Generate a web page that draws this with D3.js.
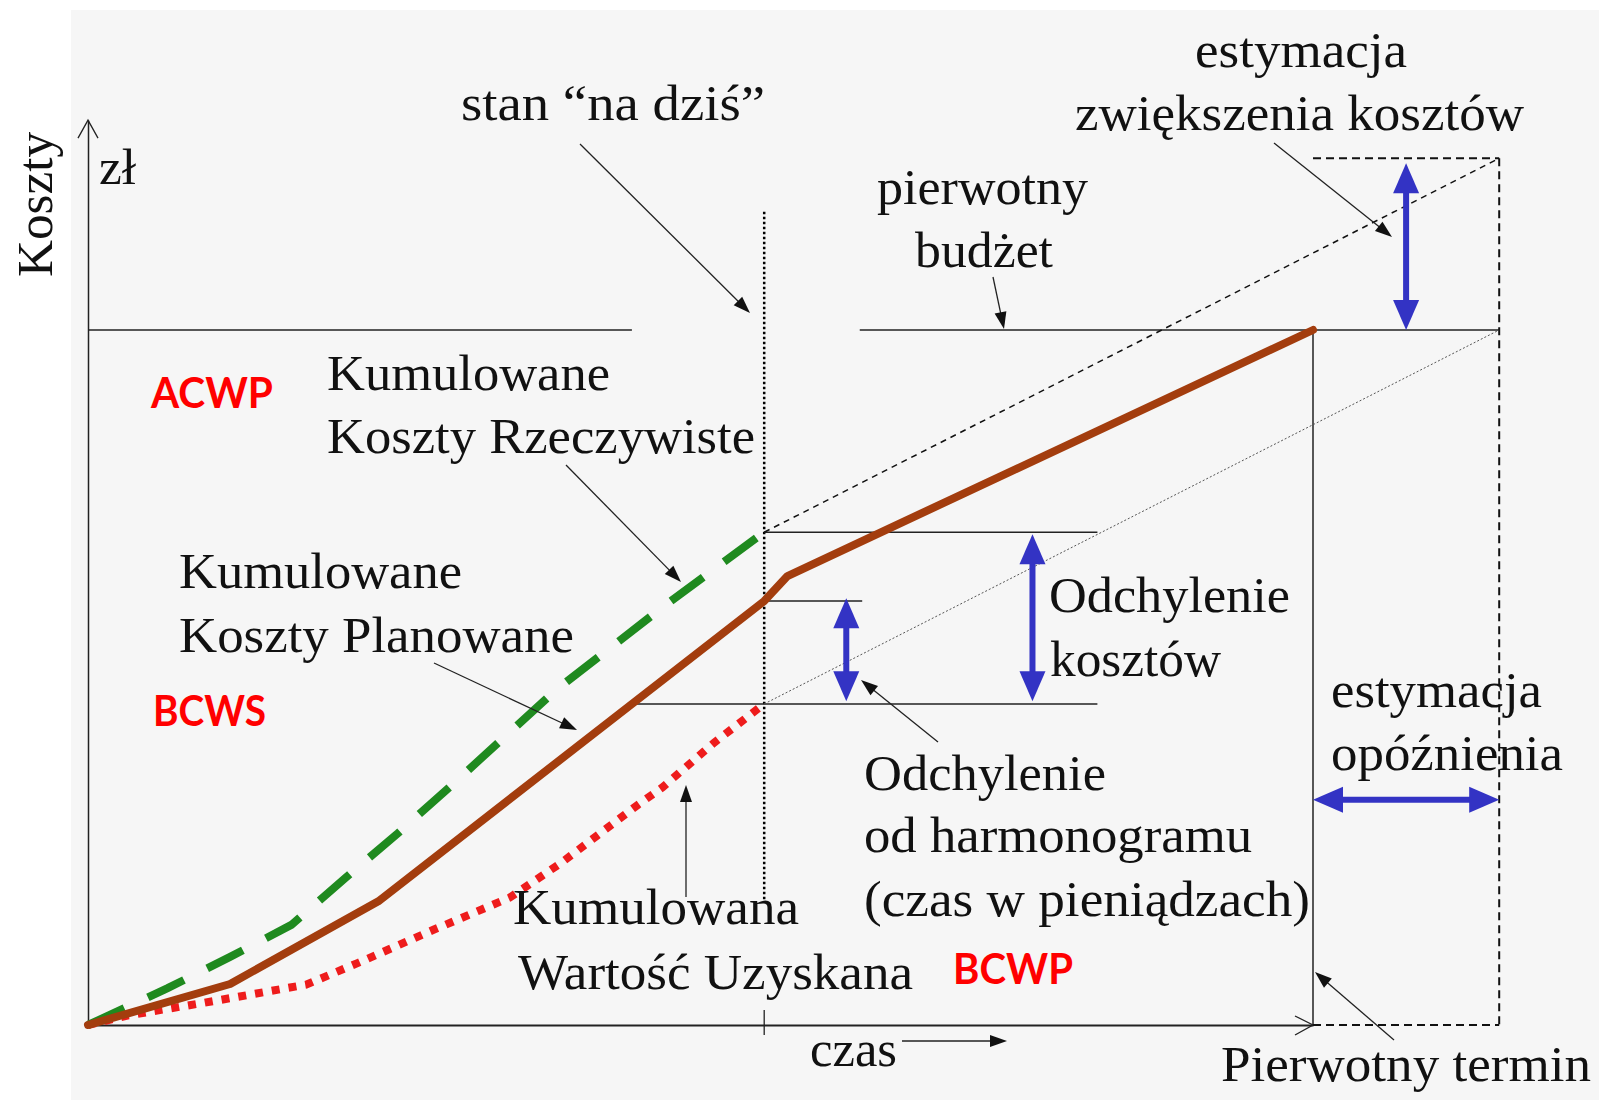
<!DOCTYPE html>
<html>
<head>
<meta charset="utf-8">
<script src="https://cdn.jsdelivr.net/npm/d3@7"></script>
<style>
  body { margin: 0; background: #fff; }
  svg { display: block; }
</style>
</head>
<body>
<svg></svg>
<script>
// time units: 0 = start, 100 = original deadline; cost units: 100 = original budget
let today = 55.2;
let deadline = 100;
let estDeadline = 115.2;
let budget = 100;
let estCost = 124.7;
let axisTop = 130.2;

// BCWS - planned cumulative cost (brown solid)
let bcwsT = [0, 11.6, 23.7, 55.2, 57.1, 100];
let bcwsC = [0, 5.9, 17.8, 61.0, 64.6, 100];

// ACWP - actual cumulative cost (green dashed)
let acwpT = [0, 6.5, 11.6, 16.6, 21.1, 25.3, 29.5, 38.2, 46.9, 55.2];
let acwpC = [0, 5.3, 9.8, 14.4, 21.3, 27.6, 34.2, 48.2, 60.1, 70.9];

// BCWP - earned value (red dotted)
let bcwpT = [0, 3.3, 9.5, 17.8, 22.0, 28.2, 34.4, 38.6, 44.9, 46.9, 51.1, 55.2];
let bcwpC = [0, 1.4, 3.2, 5.8, 8.9, 13.7, 18.3, 23.3, 31.7, 34.2, 40.6, 46.2];

let labels = ['stan \u201Cna dziś\u201D', 'estymacja', 'zwiększenia kosztów', 'pierwotny', 'budżet',
    'Kumulowane', 'Koszty Rzeczywiste', 'Kumulowane', 'Koszty Planowane',
    'Odchylenie', 'kosztów', 'estymacja', 'opóźnienia',
    'Odchylenie', 'od harmonogramu', '(czas w pieniądzach)',
    'Kumulowana', 'Wartość Uzyskana', 'czas', 'Pierwotny termin', 'zł'];
let codes = ['ACWP', 'BCWS', 'BCWP'];

let width = 1599;
let height = 1100;

let svg = d3.select('svg')
    .attr('width', width)
    .attr('height', height)

svg.append('rect')
    .attr('width', width).attr('height', height)
    .attr('fill', '#ffffff')
svg.append('rect')
    .attr('x', 71).attr('y', 10)
    .attr('width', width - 71).attr('height', height - 10)
    .attr('fill', '#f6f6f6')

let x = d3.scaleLinear().domain([0, 100]).range([88, 1313]);
let y = d3.scaleLinear().domain([0, 100]).range([1025, 330]);

let line = d3.line()
    .x(d => x(d[0]))
    .y(d => y(d[1]));

function seg(t1, c1, t2, c2, stroke, sw, dash) {
    let l = svg.append('line')
        .attr('x1', x(t1)).attr('y1', y(c1))
        .attr('x2', x(t2)).attr('y2', y(c2))
        .attr('stroke', stroke)
        .attr('stroke-width', sw)
    if (dash) l.attr('stroke-dasharray', dash);
    return l;
}

// axes
let yAx = y.copy().domain([0, axisTop]).range([y(0), y(axisTop)]);
svg.append('g')
    .attr('transform', 'translate(' + x(0) + ',0)')
    .call(d3.axisLeft(yAx).tickValues([]).tickSizeOuter(0))
    .select('.domain').attr('stroke', '#222').attr('stroke-width', 1.5);
svg.append('g')
    .attr('transform', 'translate(0,' + y(0) + ')')
    .call(d3.axisBottom(x).tickValues([]).tickSizeOuter(0))
    .select('.domain').attr('stroke', '#222').attr('stroke-width', 2);

// open arrow heads on the axes
svg.append('path')
    .attr('d', 'M' + (x(0) - 10) + ',' + (yAx(axisTop) + 18) + 'L' + x(0) + ',' + yAx(axisTop) + 'L' + (x(0) + 10) + ',' + (yAx(axisTop) + 18))
    .attr('fill', 'none').attr('stroke', '#222').attr('stroke-width', 1.3)
svg.append('path')
    .attr('d', 'M' + (x(deadline) - 18) + ',' + (y(0) - 9) + 'L' + x(deadline) + ',' + y(0) + 'L' + (x(deadline) - 18) + ',' + (y(0) + 10))
    .attr('fill', 'none').attr('stroke', '#222').attr('stroke-width', 1.3)

// tick at today
svg.append('line')
    .attr('x1', x(today)).attr('x2', x(today))
    .attr('y1', y(0) - 15).attr('y2', y(0) + 10)
    .attr('stroke', '#222').attr('stroke-width', 1.3)

// budget line (two pieces)
seg(0, budget, 44.4, budget, '#222', 1.5);
seg(63.0, budget, estDeadline, budget, '#222', 1.5);

// today line
seg(today, 117, today, 18, '#000', 2.5, '2.5 2.5');

// variance level lines
seg(today, 70.9, 82.4, 70.9, '#222', 1.5);
seg(today, 61.0, 63.2, 61.0, '#222', 1.5);
seg(44.4, 46.2, 82.4, 46.2, '#222', 1.5);

// original deadline vertical
seg(deadline, 0, deadline, budget, '#222', 1.5);

// estimate box (dashed)
seg(deadline, estCost, estDeadline, estCost, '#111', 2, '8 5');
seg(estDeadline, estCost, estDeadline, 0, '#111', 2, '8 5');
seg(deadline, 0, estDeadline, 0, '#111', 2, '8 5');

// extrapolations
seg(today, 70.9, estDeadline, estCost, '#111', 1.5, '6 5');
seg(today, 46.2, estDeadline, budget, '#555', 1, '2 2');

// curves
svg.append('path')
    .datum(d3.zip(bcwpT, bcwpC))
    .attr('d', line)
    .attr('fill', 'none')
    .attr('stroke', '#ee1c1c')
    .attr('stroke-width', 8)
    .attr('stroke-dasharray', '8 9')
svg.append('path')
    .datum(d3.zip(acwpT, acwpC))
    .attr('d', line)
    .attr('fill', 'none')
    .attr('stroke', '#1f8a1f')
    .attr('stroke-width', 8)
    .attr('stroke-dasharray', '40 26')
svg.append('path')
    .datum(d3.zip(bcwsT, bcwsC))
    .attr('d', line)
    .attr('fill', 'none')
    .attr('stroke', '#a33d0e')
    .attr('stroke-width', 8)
    .attr('stroke-linejoin', 'round')
    .attr('stroke-linecap', 'round')

// blue double arrows
function head(px, py, ang, len, hw, color) {
    let ca = Math.cos(ang), sa = Math.sin(ang);
    let bx = px - ca * len, by = py - sa * len;
    svg.append('path')
        .attr('d', 'M' + px + ',' + py +
            'L' + (bx - sa * hw) + ',' + (by + ca * hw) +
            'L' + (bx + sa * hw) + ',' + (by - ca * hw) + 'Z')
        .attr('fill', color)
}
function blueArrow(t1, c1, t2, c2) {
    let x1 = x(t1), y1 = y(c1), x2 = x(t2), y2 = y(c2);
    let ang = Math.atan2(y2 - y1, x2 - x1);
    let ca = Math.cos(ang), sa = Math.sin(ang);
    svg.append('line')
        .attr('x1', x1 + ca * 20).attr('y1', y1 + sa * 20)
        .attr('x2', x2 - ca * 20).attr('y2', y2 - sa * 20)
        .attr('stroke', '#3333c4').attr('stroke-width', 6)
    head(x2, y2, ang, 30, 13, '#3333c4');
    head(x1, y1, ang + Math.PI, 30, 13, '#3333c4');
}
blueArrow(107.6, budget, 107.6, estCost - 0.7);
blueArrow(77.1, 46.6, 77.1, 70.6);
blueArrow(61.9, 46.6, 61.9, 61.4);
blueArrow(deadline, 32.4, estDeadline, 32.4);

// thin black annotation arrows (pixel layout)
function thinArrow(x1, y1, x2, y2) {
    let ang = Math.atan2(y2 - y1, x2 - x1);
    svg.append('line')
        .attr('x1', x1).attr('y1', y1)
        .attr('x2', x2 - Math.cos(ang) * 10).attr('y2', y2 - Math.sin(ang) * 10)
        .attr('stroke', '#222').attr('stroke-width', 1.3)
    head(x2, y2, ang, 17, 6, '#111');
}
thinArrow(580, 144, 750, 313);
thinArrow(1274, 143, 1392, 237);
thinArrow(993, 277, 1004, 329);
thinArrow(566, 465, 681, 582);
thinArrow(434, 663, 577, 730);
thinArrow(686, 897, 686, 785);
thinArrow(938, 742, 861, 680);
thinArrow(1394, 1040, 1315, 972);
thinArrow(902, 1041, 1007, 1041);

// serif texts: [label index, left x, baseline y, width]
let textLayout = [
    [0, 461, 120, 304], [1, 1195, 67, 212], [2, 1075, 130, 449], [3, 877, 204, 211], [4, 915, 267, 138],
    [5, 327, 390, 283], [6, 327, 453, 428], [7, 179, 588, 283], [8, 179, 652, 395],
    [9, 1049, 612, 241], [10, 1050, 676, 171], [11, 1331, 707, 211], [12, 1331, 770, 232],
    [13, 864, 790, 242], [14, 864, 852, 388], [15, 864, 916, 446],
    [16, 513, 924, 286], [17, 518, 989, 395], [18, 810, 1066, 87], [19, 1221, 1081, 370], [20, 99, 184, 37]
];
svg.append('g').selectAll('text')
    .data(textLayout)
    .enter()
    .append('text')
    .attr('x', d => d[1])
    .attr('y', d => d[2])
    .attr('textLength', d => d[3])
    .attr('lengthAdjust', 'spacingAndGlyphs')
    .attr('font-family', '"Liberation Serif", "Times New Roman", serif')
    .attr('font-size', 50)
    .attr('fill', '#111')
    .text(d => labels[d[0]]);

svg.append('text')
    .attr('transform', 'translate(52,277) rotate(-90)')
    .attr('textLength', 145)
    .attr('lengthAdjust', 'spacingAndGlyphs')
    .attr('font-family', '"Liberation Serif", "Times New Roman", serif')
    .attr('font-size', 50)
    .attr('fill', '#111')
    .text('Koszty');

// red code labels
let codeLayout = [[151, 408, 122], [153, 726, 113], [953, 984, 120]];
svg.append('g').selectAll('text')
    .data(codeLayout)
    .enter()
    .append('text')
    .attr('x', d => d[0])
    .attr('y', d => d[1])
    .attr('textLength', d => d[2])
    .attr('lengthAdjust', 'spacingAndGlyphs')
    .attr('font-family', 'Lato, "Open Sans", sans-serif')
    .attr('font-weight', 'bold')
    .attr('font-size', 42)
    .attr('fill', '#ff0000')
    .text((d, i) => codes[i]);
</script>
</body>
</html>
